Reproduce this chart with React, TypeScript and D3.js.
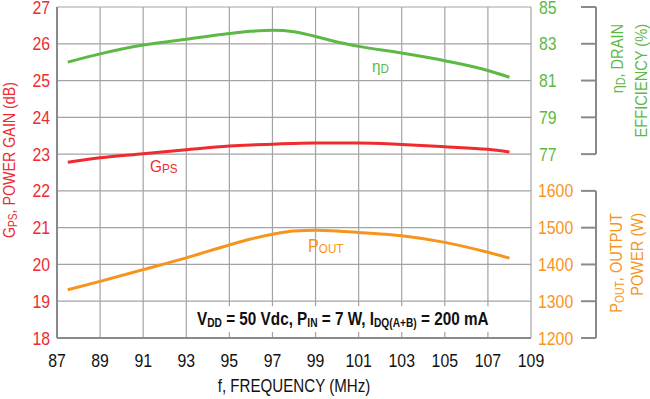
import React from 'react';
import * as d3 from 'd3';

// frequency points (MHz)
const freq = [87.5, 89, 91, 93, 95, 96, 97, 98, 99, 100, 101, 103, 105, 107, 108];
const gainDb = [22.78, 22.9, 23.01, 23.12, 23.22, 23.25, 23.27, 23.29, 23.3, 23.3, 23.3, 23.26, 23.2, 23.13, 23.06];
const effPct = [82.0, 82.45, 82.93, 83.25, 83.56, 83.68, 83.74, 83.66, 83.4, 83.1, 82.86, 82.5, 82.08, 81.55, 81.18];
const poutW = [1331, 1354, 1386, 1418, 1453, 1469, 1482, 1491, 1493, 1491, 1487, 1478, 1460, 1433, 1417];

const xTicks = [87, 89, 91, 93, 95, 97, 99, 101, 103, 105, 107, 109];
const gainTicks = [18, 19, 20, 21, 22, 23, 24, 25, 26, 27];
const effTicks = [77, 79, 81, 83, 85];
const powerTicks = [1200, 1300, 1400, 1500, 1600];

const RED = '#ee2b2f';
const GREEN = '#5cb944';
const ORANGE = '#f7941d';
const GRID = '#a3a3a3';
const AXIS = '#8a8a8a';
const FONT = '"Liberation Sans", Arial, sans-serif';

const left = 57, right = 531, top = 7, bottom = 338;

// no narrow font installed, so squeeze Liberation Sans horizontally
const T = ({ x, y, sx = 0.86, rot = false, children, ...rest }: any) => (
  <text transform={`translate(${x},${y})${rot ? ' rotate(-90)' : ''} scale(${sx},1)`} {...rest}>
    {children}
  </text>
);

export default function App() {
  const x = d3.scaleLinear().domain([87, 109]).range([left, right]);
  const yGain = d3.scaleLinear().domain([18, 27]).range([bottom, top]);
  const yEff = d3.scaleLinear().domain([67, 85]).range([bottom, top]);
  const yPow = d3.scaleLinear().domain([1200, 2100]).range([bottom, top]);

  const mk = (vals: number[], y: d3.ScaleLinear<number, number>) =>
    d3.line<number>()
      .x((_, i) => x(freq[i]))
      .y((v) => y(v))
      .curve(d3.curveMonotoneX)(vals) as string;

  const axX = 596;

  return (
    <div style={{ position: 'fixed', left: 0, top: 0 }}>
      <svg width={650} height={399} style={{ display: 'block', background: '#fff' }} fontFamily={FONT}>
        {/* grid */}
        {xTicks.map((t) => (
          <line key={'gx' + t} x1={x(t)} x2={x(t)} y1={top} y2={bottom} stroke={GRID} strokeWidth={1.2} />
        ))}
        {gainTicks.map((t) => (
          <line key={'gy' + t} x1={left} x2={right} y1={yGain(t)} y2={yGain(t)} stroke={GRID} strokeWidth={1.2} />
        ))}
        {/* annotation box covers the grid */}
        <rect x={x(93) + 1} y={yGain(19) + 5} width={right - x(93) - 2} height={bottom - yGain(19) - 11} fill="#fff" />
        <line x1={left} x2={left} y1={top} y2={bottom} stroke={AXIS} strokeWidth={2} />
        <line x1={left} x2={right} y1={bottom} y2={bottom} stroke={AXIS} strokeWidth={2} />

        {/* curves */}
        <path d={mk(effPct, yEff)} fill="none" stroke={GREEN} strokeWidth={3} />
        <path d={mk(gainDb, yGain)} fill="none" stroke={RED} strokeWidth={3} />
        <path d={mk(poutW, yPow)} fill="none" stroke={ORANGE} strokeWidth={3} />

        {/* left axis labels */}
        {gainTicks.map((t) => (
          <T key={'lt' + t} x={50} y={yGain(t) + 6.5} sx={0.88} textAnchor="end" fill={RED} fontSize={18}>{t}</T>
        ))}
        {/* x axis labels */}
        {xTicks.map((t) => (
          <T key={'xt' + t} x={x(t)} y={367} sx={0.88} textAnchor="middle" fill="#111" fontSize={18}>{t}</T>
        ))}
        <T x={(left + right) / 2} y={392} sx={0.84} textAnchor="middle" fill="#111" fontSize={18}>f, FREQUENCY (MHz)</T>

        {/* right efficiency axis */}
        <line x1={axX} x2={axX} y1={yEff(85)} y2={yEff(77)} stroke={AXIS} strokeWidth={2} />
        {effTicks.map((t) => (
          <g key={'et' + t}>
            <line x1={axX - 15} x2={axX} y1={yEff(t)} y2={yEff(t)} stroke={AXIS} strokeWidth={2} />
            <T x={539} y={yEff(t) + 6.5} sx={0.88} fill={GREEN} fontSize={18}>{t}</T>
          </g>
        ))}
        {/* right power axis */}
        <line x1={axX} x2={axX} y1={yPow(1600)} y2={yPow(1200)} stroke={AXIS} strokeWidth={2} />
        {powerTicks.map((t) => (
          <g key={'pt' + t}>
            <line x1={axX - 15} x2={axX} y1={yPow(t)} y2={yPow(t)} stroke={AXIS} strokeWidth={2} />
            <T x={538} y={yPow(t) + 6.5} sx={0.88} fill={ORANGE} fontSize={18}>{t}</T>
          </g>
        ))}

        {/* axis titles */}
        <T x={15} y={160} rot sx={0.84} textAnchor="middle" fill={RED} fontSize={17}>
          G<tspan fontSize={12} dy={2}>PS</tspan><tspan dy={-2}>, POWER GAIN (dB)</tspan>
        </T>
        <T x={623} y={24} rot textAnchor="end" fill={GREEN} fontSize={17}>
          η<tspan fontSize={12} dy={2}>D</tspan><tspan dy={-2}>, DRAIN</tspan>
        </T>
        <T x={647} y={24} rot textAnchor="end" fill={GREEN} fontSize={17}>EFFICIENCY (%)</T>
        <T x={622} y={213} rot textAnchor="end" fill={ORANGE} fontSize={17}>
          P<tspan fontSize={12} dy={2}>OUT</tspan><tspan dy={-2}>, OUTPUT</tspan>
        </T>
        <T x={643} y={213} rot textAnchor="end" fill={ORANGE} fontSize={17}>POWER (W)</T>

        {/* curve labels */}
        <T x={372} y={72} sx={0.9} fill={GREEN} fontSize={17}>η<tspan fontSize={13} dy={1}>D</tspan></T>
        <T x={150} y={172} sx={0.9} fill={RED} fontSize={17}>G<tspan fontSize={13} dy={1}>PS</tspan></T>
        <T x={308} y={252} sx={0.9} fill={ORANGE} fontSize={18}>P<tspan fontSize={13} dy={1}>OUT</tspan></T>

        {/* conditions */}
        <T x={197} y={325} sx={0.85} fill="#111" fontSize={18} fontWeight="bold">
          V<tspan fontSize={12} dy={2}>DD</tspan><tspan dy={-2}> = 50 Vdc, P</tspan><tspan fontSize={12} dy={2}>IN</tspan><tspan dy={-2}> = 7 W, I</tspan><tspan fontSize={12} dy={2}>DQ(A+B)</tspan><tspan dy={-2}> = 200 mA</tspan>
        </T>
      </svg>
    </div>
  );
}
